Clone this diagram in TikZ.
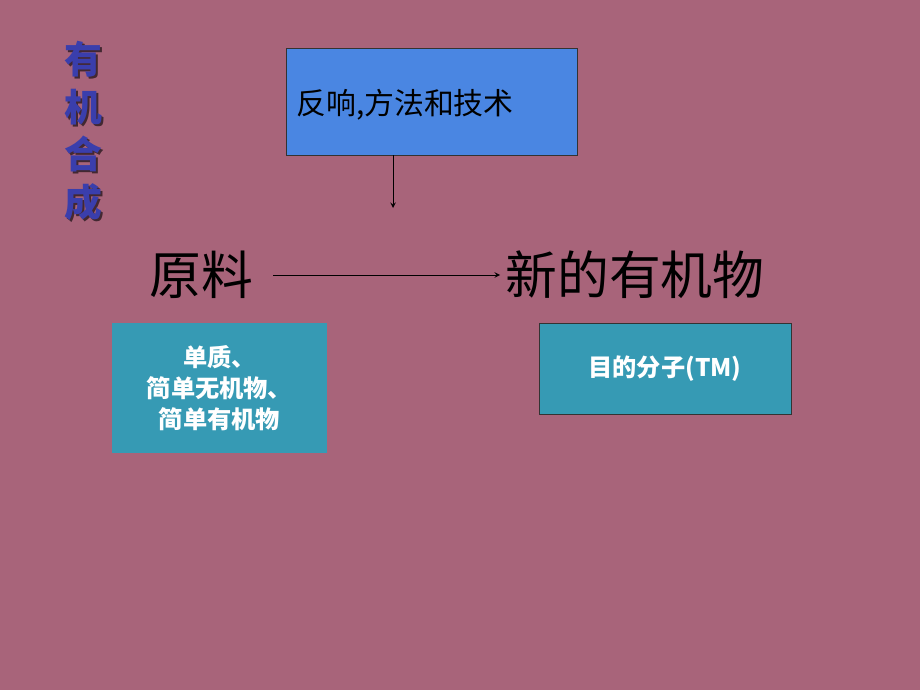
\documentclass[tikz,border=0pt]{standalone}
\usepackage{fontspec}
\usepackage{tikz}
\newfontfamily\cjk{Noto Sans CJK SC}

\definecolor{slidebg}{RGB}{168,100,122}
\definecolor{titleblue}{RGB}{58,62,172}
\definecolor{topblue}{RGB}{74,134,226}
\definecolor{tealbox}{RGB}{54,154,180}

\tikzset{
	bigword/.style={font=\cjk\fontsize{29.5}{31}\selectfont, text=black, inner sep=0pt},
	tealnode/.style={shape=rectangle, fill=tealbox, text=white, font=\cjk\bfseries\fontsize{13.8}{17.6}\selectfont, align=center},
}

\begin{document}
\begin{tikzpicture}[x=0.02cm, y=-0.02cm]
	
	\fill[slidebg] (0,0) rectangle (920,690);
	\useasboundingbox (0,0) rectangle (920,690);
	
	% vertical title
	\node[text=black!60!slidebg, font=\cjk\bfseries\fontsize{21.5}{27}\selectfont, align=center, inner sep=0pt] (shadow) at (85,133) {有\\机\\合\\成};
	\node[text=titleblue, font=\cjk\bfseries\fontsize{21.5}{27}\selectfont, align=center, inner sep=0pt] (title) at (83,131) {有\\机\\合\\成};
	
	\node[shape=rectangle, draw=black!80, fill=topblue, minimum width=5.82cm, minimum height=2.14cm] (method) at (431.5,101.5) {};
	\node[font=\cjk\fontsize{17}{19}\selectfont, anchor=west, inner sep=0pt] (methodtext) at (296,105) {反响,方法和技术};
	\coordinate (down) at (393,208);
	
	\node[bigword] (start) at (201,275) {原料};
	\node[bigword] (product) at (635,275) {新的有机物};
	
	\node[tealnode, minimum width=4.3cm, minimum height=2.6cm] (raw) at (219.5,388) {单质、\\简单无机物、\\ 简单有机物};
	\node[tealnode, draw=black!80, minimum width=5.04cm, minimum height=1.82cm] (target) at (665,369) {目的分子(TM)};
	
	\path[-stealth, thin] (method.south -| down) edge (down);
	\path[-stealth, thin] ([xshift=0.4cm]start.east) edge ([xshift=-0.1cm]product.west);
	
\end{tikzpicture}
\end{document}
